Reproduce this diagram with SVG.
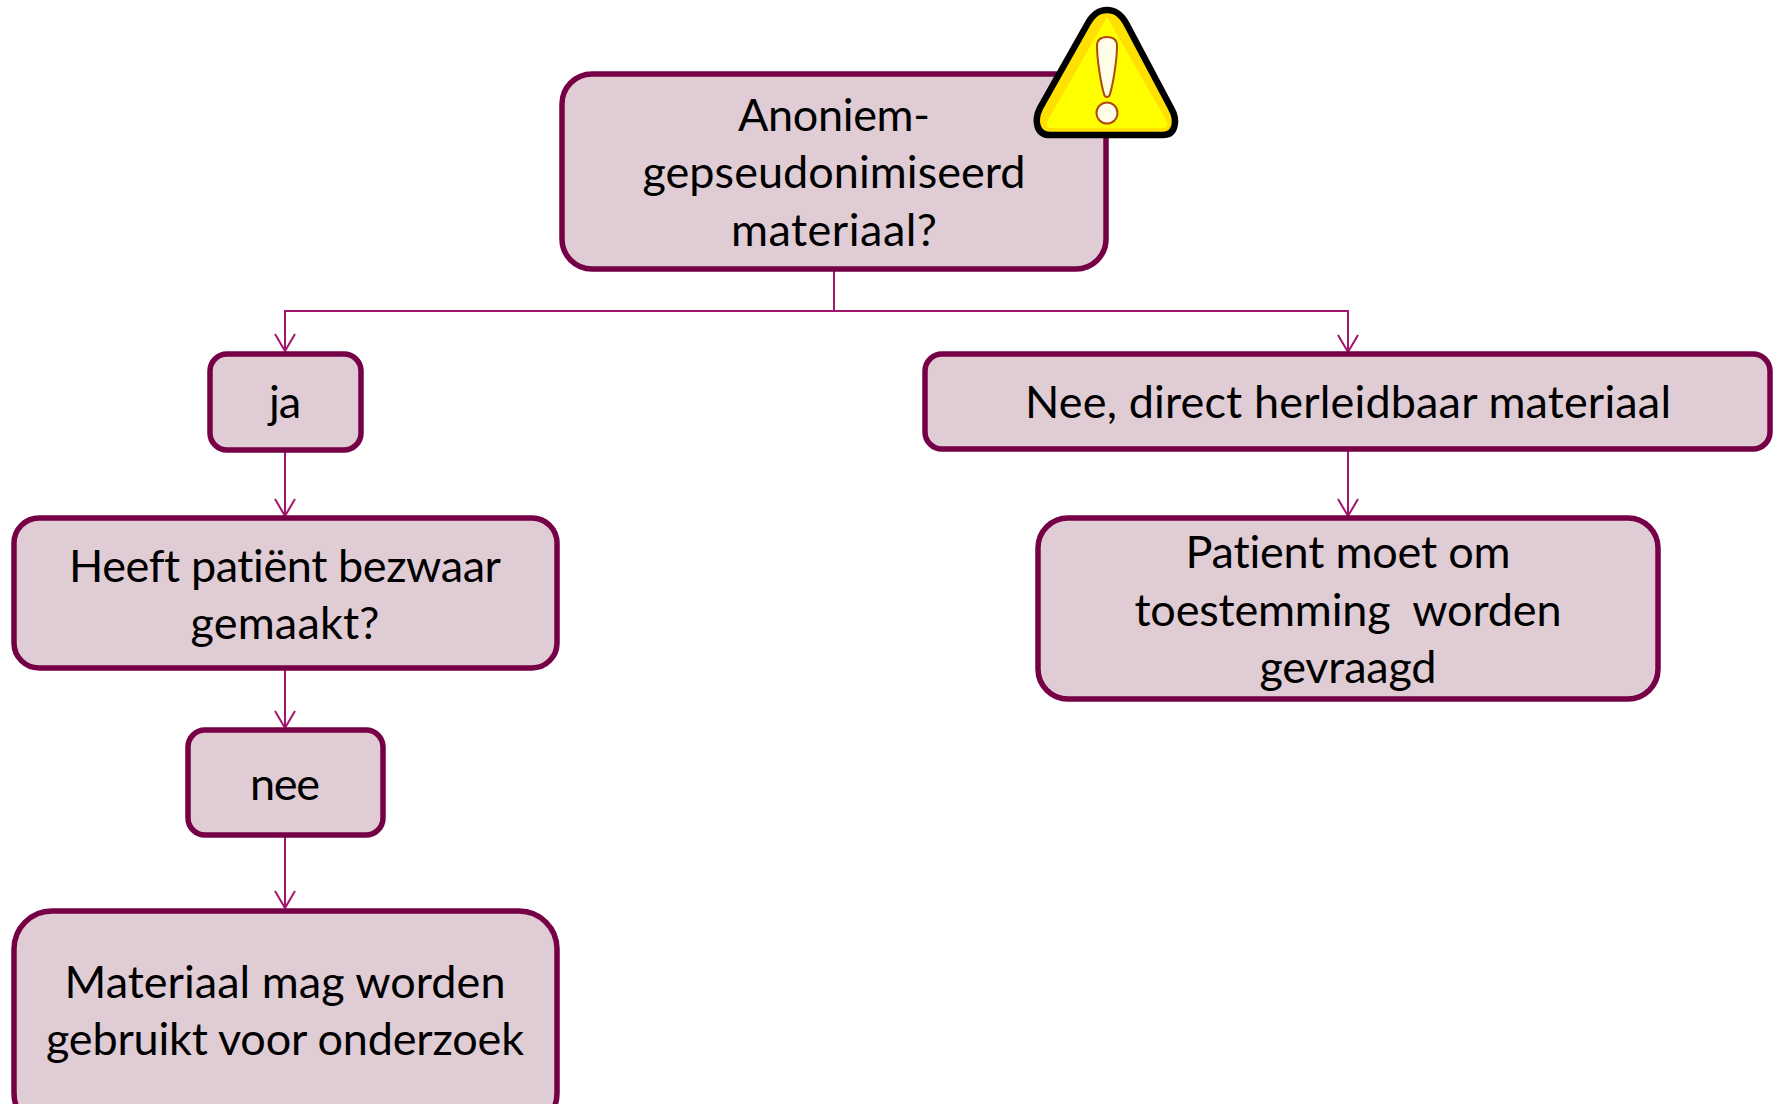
<svg xmlns="http://www.w3.org/2000/svg" width="1781" height="1104" viewBox="0 0 1781 1104">
<style>
.box{fill:#e0ccd4;stroke:#750046;stroke-width:5.5}
.t{font-family:Lato,"Open Sans",sans-serif;font-size:45px;fill:#000;text-anchor:middle;font-variant-ligatures:none}
.c{fill:none;stroke:#a3156f;stroke-width:2}
</style>
<defs><marker id="a" markerUnits="userSpaceOnUse" markerWidth="24" markerHeight="26" refX="20" refY="13" orient="auto" viewBox="0 0 24 26"><path d="M3 3L20 13L3 23" fill="none" stroke="#a3156f" stroke-width="2"/></marker></defs>
<rect width="1781" height="1104" fill="#fff"/>
<g id="connectors">
<path class="c" d="M834 270V311H285V351" marker-end="url(#a)"/>
<path class="c" d="M834 311H1348V352" marker-end="url(#a)"/>
<path class="c" d="M285 451V516" marker-end="url(#a)"/>
<path class="c" d="M285 669V728" marker-end="url(#a)"/>
<path class="c" d="M285 837V908" marker-end="url(#a)"/>
<path class="c" d="M1348 451V516" marker-end="url(#a)"/>
</g>
<g id="n1"><rect class="box" x="562" y="74" width="544" height="195" rx="30"/>
<text class="t" x="834" y="131" textLength="192">Anoniem-</text><text class="t" x="834" y="188" textLength="383">gepseudonimiseerd</text><text class="t" x="834" y="246" textLength="206">materiaal?</text></g>
<g id="n2"><rect class="box" x="210" y="354" width="151" height="96" rx="17"/><text class="t" x="285" y="418" textLength="32">ja</text></g>
<g id="n3"><rect class="box" x="14" y="518" width="543" height="150" rx="25"/>
<text class="t" x="285" y="582" textLength="432">Heeft patiënt bezwaar</text><text class="t" x="285" y="639" textLength="189">gemaakt?</text></g>
<g id="n4"><rect class="box" x="188" y="730" width="195" height="105" rx="17"/><text class="t" x="285" y="800" textLength="70">nee</text></g>
<g id="n5"><rect class="box" x="14" y="911" width="543" height="220" rx="38"/>
<text class="t" x="285" y="998" textLength="441">Materiaal mag worden</text><text class="t" x="285" y="1055" textLength="478">gebruikt voor onderzoek</text></g>
<g id="n6"><rect class="box" x="925" y="354" width="845" height="95" rx="17"/><text class="t" x="1348" y="418" textLength="646">Nee, direct herleidbaar materiaal</text></g>
<g id="n7"><rect class="box" x="1038" y="518" width="620" height="181" rx="30"/>
<text class="t" x="1348" y="568" textLength="325">Patient moet om</text><text class="t" x="1348" y="626" textLength="427" xml:space="preserve">toestemming  worden</text><text class="t" x="1348" y="683" textLength="177">gevraagd</text></g>
<g id="warning">
<path d="M1107 10C1097 10 1092 16 1088 23L1040 108C1034 120 1036 135 1050 135H1163C1176 135 1178 120 1171 108L1126 23C1122 16 1117 10 1107 10Z" fill="#ffe000" stroke="#000" stroke-width="6.5"/>
<path d="M1107 17L1048 120C1045 127 1048 128 1054 128H1160C1166 128 1169 127 1166 120Z" fill="#ffff00"/>
<path d="M1107 37C1100 37 1097 40 1097 46C1097 60 1101 84 1104 94C1105 98 1109 98 1110 94C1113 84 1117 60 1117 46C1117 40 1114 37 1107 37Z" fill="#fffde6" stroke="#b04a10" stroke-width="2"/>
<circle cx="1107" cy="113" r="10.5" fill="#fffde6" stroke="#b04a10" stroke-width="2"/>
</g>
</svg>
